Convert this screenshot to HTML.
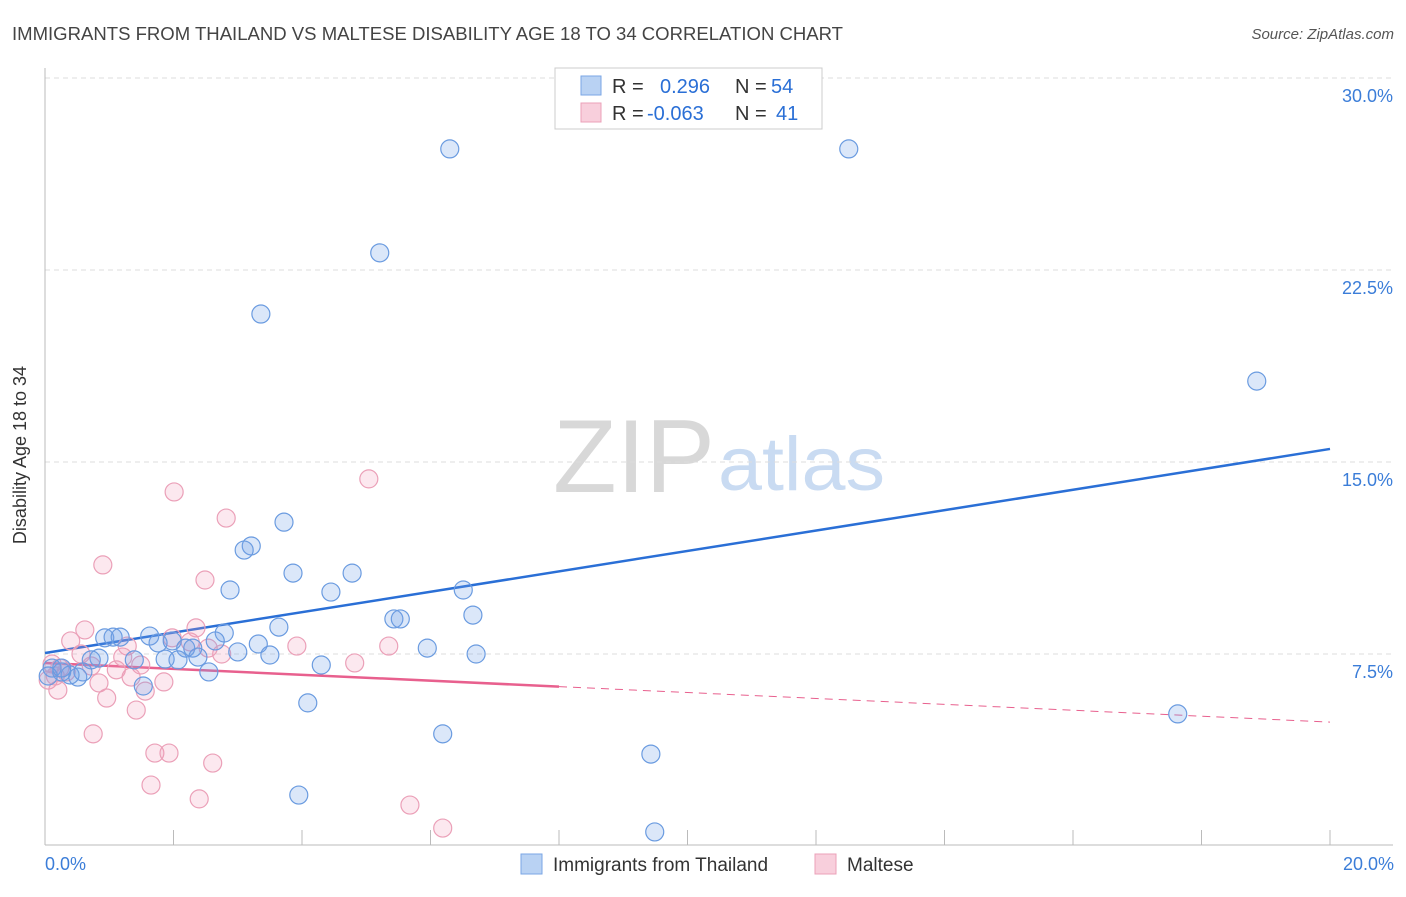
<!DOCTYPE html>
<html><head><meta charset="utf-8"><style>
body{margin:0;background:#fff;font-family:"Liberation Sans",sans-serif}
svg text{font-family:"Liberation Sans",sans-serif}
</style></head><body>
<svg width="1406" height="892" xmlns="http://www.w3.org/2000/svg" id="chart">
<text x="12" y="40" font-size="18.6" fill="#444" textLength="831" lengthAdjust="spacingAndGlyphs">IMMIGRANTS FROM THAILAND VS MALTESE DISABILITY AGE 18 TO 34 CORRELATION CHART</text>
<text x="1394" y="39" font-size="15" fill="#555" text-anchor="end" font-style="italic">Source: ZipAtlas.com</text>
<g>
<text x="553" y="492" font-size="104" fill="#d8d8d8" font-family="Liberation Serif,serif" textLength="162" lengthAdjust="spacingAndGlyphs">ZIP</text>
<text x="718" y="490" font-size="76" fill="#c9dbf2" textLength="167" lengthAdjust="spacingAndGlyphs">atlas</text>
</g>
<g id="grid"></g>
<g id="axes"></g>
<g id="lines"></g>
<g id="pts"></g>
<text x="26" y="455" font-size="18" fill="#333" text-anchor="middle" transform="rotate(-90 26 455)">Disability Age 18 to 34</text>
<text x="45" y="870" font-size="18" fill="#3b7dd8">0.0%</text>
<text x="1394" y="870" font-size="18" fill="#3b7dd8" text-anchor="end">20.0%</text>
<g>
<rect x="555" y="68" width="267" height="61" fill="#fff" stroke="#ccc"/>
<rect x="581" y="76" width="20" height="19" fill="#b9d2f3" stroke="#7aa6e4"/>
<rect x="581" y="103" width="20" height="19" fill="#f8cfdc" stroke="#eba0b8"/>
<text x="612" y="93" font-size="20" fill="#333">R = <tspan fill="#2a6fd6" x="660">0.296</tspan><tspan fill="#333" x="735">N = </tspan><tspan fill="#2a6fd6" x="771">54</tspan></text>
<text x="612" y="120" font-size="20" fill="#333">R = <tspan fill="#2a6fd6" x="647">-0.063</tspan><tspan fill="#333" x="735">N = </tspan><tspan fill="#2a6fd6" x="776">41</tspan></text>
</g>
<g>
<rect x="521" y="854" width="21" height="20" fill="#b9d2f3" stroke="#7aa6e4"/>
<text x="553" y="871" font-size="19" fill="#333">Immigrants from Thailand</text>
<rect x="815" y="854" width="21" height="20" fill="#f8cfdc" stroke="#eba0b8"/>
<text x="847" y="871" font-size="19" fill="#333">Maltese</text>
</g>
</svg>
<script>
const yTicks=[7.5,15,22.5,30];
const yTickLabels=["7.5%","15.0%","22.5%","30.0%"];
const xTicks=[0,2,4,6,8,10,12,14,16,18,20];
const blueX=[6.30,12.51,5.21,3.36,18.86,3.72,3.21,3.10,3.86,4.78,2.88,4.45,6.51,6.66,5.43,5.53,3.64,2.79,1.63,0.93,1.06,1.17,1.76,1.98,2.19,2.30,2.65,3.32,3.00,3.50,2.38,1.87,2.07,0.84,0.72,1.39,5.95,6.71,4.30,2.55,0.59,0.11,0.26,0.39,0.51,0.05,4.09,1.53,17.63,6.19,9.43,3.95,9.49,0.26];
const blueY=[27.23,27.23,23.17,20.78,18.16,12.65,11.72,11.56,10.66,10.66,10.00,9.92,10.00,9.02,8.87,8.87,8.55,8.32,8.20,8.13,8.16,8.16,7.93,8.01,7.73,7.73,8.01,7.89,7.58,7.46,7.38,7.30,7.27,7.34,7.27,7.27,7.73,7.50,7.07,6.80,6.80,6.95,6.80,6.68,6.60,6.64,5.59,6.25,5.16,4.38,3.59,1.99,0.55,6.95];
const pinkX=[5.04,2.01,2.82,0.90,2.49,0.62,2.35,0.40,1.98,1.28,2.26,0.56,1.21,1.49,2.75,3.92,5.35,4.82,1.11,2.54,0.72,0.11,0.23,0.05,0.20,0.84,1.34,1.85,1.56,0.96,1.42,0.75,1.71,1.93,1.65,2.61,2.40,5.68,6.19,0.16,0.33];
const pinkY=[14.34,13.83,12.81,10.98,10.39,8.44,8.52,8.01,8.13,7.81,7.97,7.50,7.38,7.07,7.50,7.81,7.81,7.15,6.88,7.73,7.03,7.11,6.95,6.48,6.09,6.37,6.60,6.41,6.05,5.78,5.31,4.38,3.63,3.63,2.38,3.24,1.84,1.60,0.70,6.64,6.80];
const blueTrend=[7.54,15.51];
const pinkTrend=[7.15,4.84];
const pinkSolidEnd=8.0;
const NS="http://www.w3.org/2000/svg";
const X=v=>45+v/20*1285, Y=v=>846-v/7.5*192;
function mk(t,a,p){const e=document.createElementNS(NS,t);for(const k in a)e.setAttribute(k,a[k]);p.appendChild(e);return e;}
const grid=document.getElementById('grid'),axes=document.getElementById('axes'),lines=document.getElementById('lines'),pts=document.getElementById('pts');
yTicks.forEach((t,i)=>{
 const l=mk('line',{x1:45,x2:1393,y1:Y(t),y2:Y(t),stroke:'#ddd','stroke-dasharray':'5,4'},grid);
 
 
 const tx=mk('text',{x:1393,y:Y(t)+24,'font-size':18,fill:'#3b7dd8','text-anchor':'end'},grid);
 tx.textContent=yTickLabels[i];
 
 
});
const ya=mk('line',{x1:45,x2:45,y1:68,y2:845,stroke:'#bbb'},axes);


const xa=mk('line',{x1:45,x2:1393,y1:845,y2:845,stroke:'#bbb'},axes);


xTicks.forEach(t=>{
 const l=mk('line',{x1:X(t),x2:X(t),y1:830,y2:845,stroke:'#bbb'},axes);
 
 
});
function dots(xs,ys,fill,stroke,name){
 xs.forEach((x,i)=>{
  const c=mk('circle',{cx:X(x),cy:Y(ys[i]),r:9,fill:fill,stroke:stroke,'stroke-width':1.2},pts);
  
  
 });
}
dots(pinkX,pinkY,'rgba(240,150,180,0.22)','#eba0b8','maltese-point');
dots(blueX,blueY,'rgba(110,160,230,0.25)','#6a9be0','thailand-point');
const bl=mk('line',{x1:X(0),y1:Y(blueTrend[0]),x2:X(20),y2:Y(blueTrend[1]),stroke:'#2a6fd6','stroke-width':2.5},lines);


const pe=pinkTrend[0]+(pinkTrend[1]-pinkTrend[0])*pinkSolidEnd/20;
const pl=mk('line',{x1:X(0),y1:Y(pinkTrend[0]),x2:X(pinkSolidEnd),y2:Y(pe),stroke:'#e8608e','stroke-width':2.5},lines);


const pd=mk('line',{x1:X(pinkSolidEnd),y1:Y(pe),x2:X(20),y2:Y(pinkTrend[1]),stroke:'#e8608e','stroke-width':1,'stroke-dasharray':'8,6'},lines);


</script>
</body></html>
